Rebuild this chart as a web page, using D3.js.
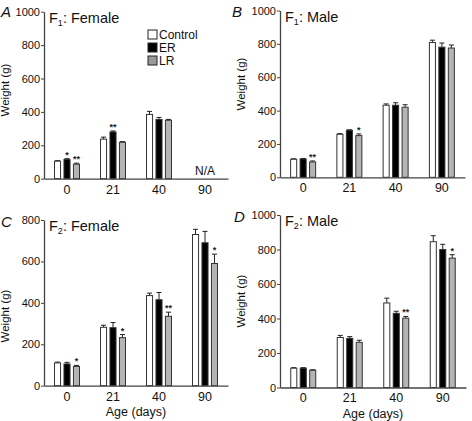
<!DOCTYPE html>
<html><head><meta charset="utf-8">
<script src="https://cdn.jsdelivr.net/npm/d3@7/dist/d3.min.js"></script>
<style>
body{margin:0;background:#fff;}
svg{display:block;font-family:"Liberation Sans",Arial,Helvetica,sans-serif;}
</style></head>
<body><svg id="chart" width="472" height="421"></svg>
<script>
// ---------- data ----------
const ageLabels = ["0", "21", "40", "90"];
const seriesNames = ["Control", "ER", "LR"];

// Panel A: F1 Female (no day-90 data)
const aControl = [105, 237, 385, null];
const aControlErr = [3, 12, 18, null];
const aER = [115, 280, 355, null];
const aERErr = [5, 6, 12, null];
const aLR = [87, 218, 350, null];
const aLRErr = [6, 4, 5, null];
const aStars = [["", "*", "**"], ["", "**", ""], ["", "", ""], ["", "", ""]];

// Panel B: F1 Male
const bControl = [108, 258, 432, 808];
const bControlErr = [3, 4, 8, 14];
const bER = [110, 282, 432, 780];
const bERErr = [3, 3, 15, 25];
const bLR = [92, 250, 420, 775];
const bLRErr = [6, 10, 15, 18];
const bStars = [["", "", "**"], ["", "", "*"], ["", "", ""], ["", "", ""]];

// Panel C: F2 Female
const cControl = [110, 282, 435, 730];
const cControlErr = [4, 10, 12, 25];
const cER = [105, 280, 415, 690];
const cERErr = [8, 25, 35, 55];
const cLR = [93, 232, 335, 590];
const cLRErr = [5, 15, 20, 45];
const cStars = [["", "", "*"], ["", "", "*"], ["", "", "**"], ["", "", "*"]];

// Panel D: F2 Male
const dControl = [112, 290, 490, 845];
const dControlErr = [3, 12, 28, 35];
const dER = [112, 285, 430, 800];
const dERErr = [3, 10, 12, 30];
const dLR = [100, 262, 402, 750];
const dLRErr = [3, 12, 10, 20];
const dStars = [["", "", ""], ["", "", ""], ["", "", "**"], ["", "", "*"]];

const yTicks1000 = [0, 200, 400, 600, 800, 1000];
const yTicks800 = [0, 200, 400, 600, 800];

// ---------- layout ----------
const fills = {Control: "#ffffff", ER: "#000000", LR: "#b4b4b4"};
const legendFills = {Control: "#ffffff", ER: "#000000", LR: "#9a9a9a"};
const font = '"Liberation Sans",Arial,Helvetica,sans-serif';

function build(means, errs) {
  return ageLabels.map((age, i) => ({
    age,
    vals: seriesNames.map((s, k) => ({s, v: means[k][i], e: errs[k][i]}))
  }));
}

const panels = [
  {letter: "A", sub: "1", sex: ": Female", x0: 44, x1: 228, yBase: 178.7, yTop: 11.7, max: 1000, ticks: yTicks1000,
   data: build([aControl, aER, aLR], [aControlErr, aERErr, aLRErr]), stars: aStars,
   lx: 1, ly: 17, ylabY: 90, xlab: false, legend: true, na: true},
  {letter: "B", sub: "1", sex: ": Male", x0: 280, x1: 465, yBase: 177.3, yTop: 10.5, max: 1000, ticks: yTicks1000,
   data: build([bControl, bER, bLR], [bControlErr, bERErr, bLRErr]), stars: bStars,
   lx: 232, ly: 17, ylabY: 84, xlab: false},
  {letter: "C", sub: "2", sex: ": Female", x0: 44, x1: 228, yBase: 385.7, yTop: 220, max: 800, ticks: yTicks800,
   data: build([cControl, cER, cLR], [cControlErr, cERErr, cLRErr]), stars: cStars,
   lx: 1, ly: 227, ylabY: 316, xlab: true},
  {letter: "D", sub: "2", sex: ": Male", x0: 280, x1: 466, yBase: 387.5, yTop: 215, max: 1000, ticks: yTicks1000,
   data: build([dControl, dER, dLR], [dControlErr, dERErr, dLRErr]), stars: dStars,
   lx: 234, ly: 222, ylabY: 301, xlab: true}
];

const svg = d3.select("#chart");

panels.forEach(p => {
  const g = svg.append("g");
  const x = d3.scaleBand().domain(ageLabels).range([p.x0, p.x1]).paddingInner(0).paddingOuter(0);
  const xi = d3.scaleBand().domain(seriesNames).range([-12.5, 12.5]).paddingInner(0.36).paddingOuter(0);
  const y = d3.scaleLinear().domain([0, p.max]).range([p.yBase, p.yTop]);

  const grp = g.selectAll("g.grp").data(p.data).join("g")
    .attr("transform", d => `translate(${x(d.age) + x.bandwidth() / 2},0)`);
  const barData = grp.selectAll("g.bar").data((d, gi) => d.vals.filter(v => v.v != null).map(v => ({...v, gi}))).join("g");
  barData.append("line")
    .attr("x1", d => xi(d.s) + xi.bandwidth() / 2).attr("x2", d => xi(d.s) + xi.bandwidth() / 2)
    .attr("y1", d => y(d.v)).attr("y2", d => y(d.v + d.e))
    .attr("stroke", "#222").attr("stroke-width", 1);
  barData.append("line")
    .attr("x1", d => xi(d.s) + xi.bandwidth() / 2 - 2.5).attr("x2", d => xi(d.s) + xi.bandwidth() / 2 + 2.5)
    .attr("y1", d => y(d.v + d.e)).attr("y2", d => y(d.v + d.e))
    .attr("stroke", "#222").attr("stroke-width", 1);
  barData.append("rect")
    .attr("x", d => xi(d.s)).attr("width", xi.bandwidth())
    .attr("y", d => y(d.v)).attr("height", d => y(0) - y(d.v))
    .attr("fill", d => fills[d.s]).attr("stroke", "#333").attr("stroke-width", 1);
  barData.append("text")
    .attr("x", d => xi(d.s) + xi.bandwidth() / 2)
    .attr("y", d => y(d.v + d.e) - 1)
    .attr("text-anchor", "middle")
    .attr("font-size", 9).attr("font-weight", "bold").attr("fill", "#222")
    .text(d => p.stars[d.gi][seriesNames.indexOf(d.s)]);

  const ya = g.append("g").attr("transform", `translate(${p.x0},0)`)
    .call(d3.axisLeft(y).tickValues(p.ticks).tickSize(3).tickPadding(1).tickSizeOuter(0).tickFormat(d3.format("d")));
  ya.select(".domain").attr("stroke", "#444").attr("stroke-width", 1.3);
  ya.selectAll(".tick line").attr("stroke", "#444");
  ya.selectAll(".tick text").attr("font-size", 11).attr("font-family", font).attr("fill", "#111");

  const xa = g.append("g").attr("transform", `translate(0,${p.yBase})`)
    .call(d3.axisBottom(x).tickSize(0).tickPadding(6).tickSizeOuter(0));
  xa.select(".domain").attr("stroke", "#444").attr("stroke-width", 1.3);
  xa.selectAll(".tick text").attr("font-size", 12.5).attr("font-family", font).attr("fill", "#111");

  g.append("text")
    .attr("transform", `translate(${p.x0 - 35},${p.ylabY}) rotate(-90)`)
    .attr("text-anchor", "middle").attr("font-size", 11.5).attr("fill", "#111").text("Weight (g)");

  if (p.xlab) {
    g.append("text").attr("x", (p.x0 + p.x1) / 2).attr("y", p.yBase + 30)
      .attr("text-anchor", "middle").attr("font-size", 12.5).attr("fill", "#111").text("Age (days)");
  }

  g.append("text").attr("x", p.lx).attr("y", p.ly)
    .attr("font-size", 15).attr("font-style", "italic").attr("fill", "#111").text(p.letter);

  const t = g.append("text").attr("x", p.x0 + 5).attr("y", y(p.max) + 11)
    .attr("font-size", 14.5).attr("fill", "#111");
  t.append("tspan").text("F");
  t.append("tspan").attr("font-size", 9).attr("dy", 3).text(p.sub);
  t.append("tspan").attr("dy", -3).text(p.sex);

  if (p.na) {
    g.append("text").attr("x", x("90") + x.bandwidth() / 2).attr("y", p.yBase - 4)
      .attr("text-anchor", "middle").attr("font-size", 12).attr("fill", "#111").text("N/A");
  }

  if (p.legend) {
    const lg = g.append("g").attr("transform", "translate(148,30)");
    const row = lg.selectAll("g").data(seriesNames).join("g")
      .attr("transform", (d, i) => `translate(0,${i * 13})`);
    row.append("rect").attr("width", 9).attr("height", 9)
      .attr("fill", d => legendFills[d]).attr("stroke", "#222").attr("stroke-width", 1);
    row.append("text").attr("x", 11).attr("y", 8.5).attr("font-size", 12).attr("fill", "#111").text(d => d);
  }
});
</script></body></html>
